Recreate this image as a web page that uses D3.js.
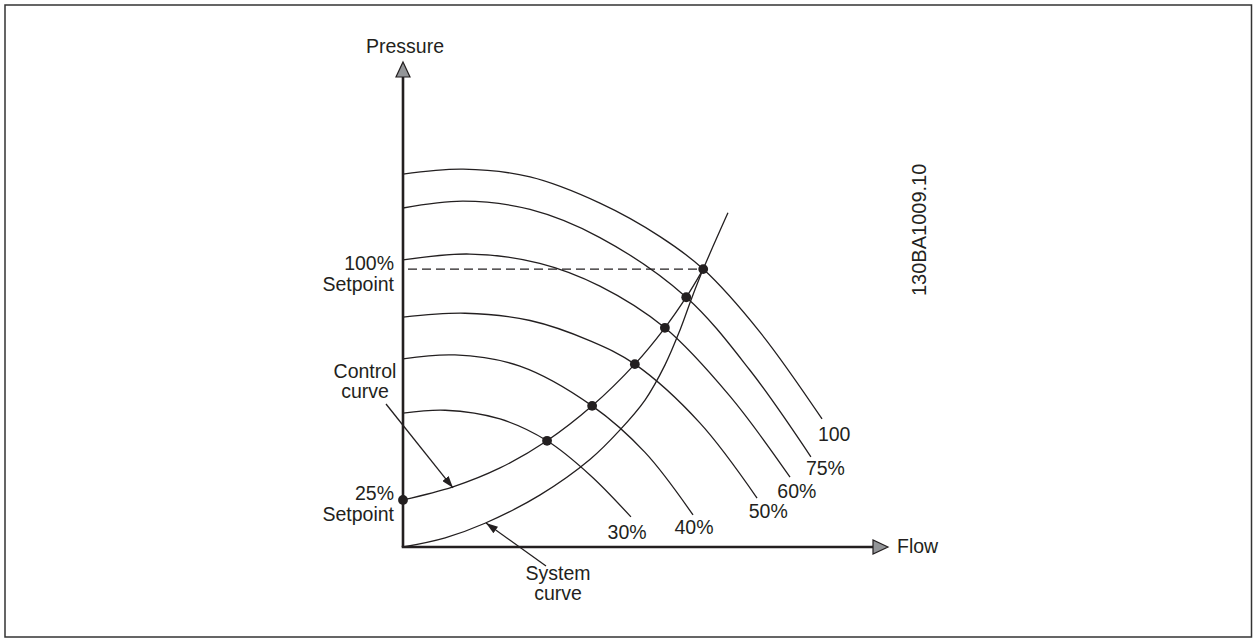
<!DOCTYPE html>
<html>
<head>
<meta charset="utf-8">
<script src="https://cdn.jsdelivr.net/npm/d3@7/dist/d3.min.js"></script>
<style>
  html, body { margin: 0; padding: 0; background: #fff; }
  svg { display: block; }
  text { font-family: "Liberation Sans", Arial, sans-serif; fill: #231f20; }
</style>
</head>
<body>
<svg id="chart" width="1253" height="639"></svg>
<script>
// Pump curves at reduced speeds: [flow, pressure] in % of axis length
const pump100 = [[0,76.9],[12.4,77.9],[26.2,76.3],[40.6,70.9],[53.0,64.0],[61.9,57.3],[73.6,44.3],[86.4,26.4]];
const pump75  = [[0,69.9],[12.4,71.3],[26.2,69.6],[40.6,63.8],[58.4,51.5],[71.5,36.5],[84.1,18.6]];
const pump60  = [[0,59.2],[13.8,60.4],[28.2,58.5],[40.6,53.8],[54.0,45.2],[67.4,31.1],[79.8,14.4]];
const pump50  = [[0,47.4],[12.8,48.2],[26.2,46.7],[38.6,42.5],[47.8,37.7],[61.2,25.6],[73.0,10.1]];
const pump40  = [[0,38.8],[10.7,39.6],[24.1,37.3],[39.0,29.1],[49.9,19.5],[59.8,6.6]];
const pump30  = [[0,27.6],[8.7,28.2],[20.0,26.4],[29.7,21.9],[38.6,14.8],[47.0,6.2]];
const pumpLabels = ["100", "75%", "60%", "50%", "40%", "30%"];
// label anchor positions (flow, pressure) for each speed curve
const pumpLabelPos = [[88.9,21.8],[87.1,14.8],[81.2,10.1],[75.3,6.0],[60.0,2.7],[46.2,1.6]];

// Control curve (setpoint line) and system curve
const controlCurve = [[0,9.7],[10.3,12.4],[20.0,16.3],[29.7,21.9],[39.0,29.1],[47.8,37.7],[54.0,45.2],[58.4,51.5],[61.9,57.3]];
const systemCurve  = [[0,0],[8.7,1.9],[16.9,4.9],[28.2,10.7],[38.6,18.1],[44.7,24.1],[49.9,30.3],[54.0,37.5],[57.1,44.7],[59.6,51.5],[61.9,57.3],[67.0,68.9]];
// Operating points where pump curves meet the control curve
const operatingPoints = [[0,9.7],[29.7,21.9],[39.0,29.1],[47.8,37.7],[54.0,45.2],[58.4,51.5],[61.9,57.3]];
const setpoint100 = 57.3;

const svg = d3.select("#chart");
const ink = "#231f20";
const fs = 19.5;

// frame
svg.append("rect").attr("x", 5).attr("y", 5).attr("width", 1246.5).attr("height", 632)
  .attr("fill", "none").attr("stroke", "#333").attr("stroke-width", 1.5);

const x = d3.scaleLinear().domain([0, 100]).range([403, 888]);
const y = d3.scaleLinear().domain([0, 100]).range([547, 62]);

const line = d3.line().x(d => x(d[0])).y(d => y(d[1])).curve(d3.curveCatmullRom.alpha(0.5));

const g = svg.append("g");

// pump curves
[pump100, pump75, pump60, pump50, pump40, pump30].forEach(p => {
  g.append("path").attr("d", line(p)).attr("fill", "none").attr("stroke", ink).attr("stroke-width", 1.3);
});
pumpLabels.forEach((t, i) => {
  g.append("text").attr("x", x(pumpLabelPos[i][0])).attr("y", y(pumpLabelPos[i][1]))
    .attr("text-anchor", "middle").attr("font-size", fs).text(t);
});

// control and system curves
g.append("path").attr("d", line(controlCurve)).attr("fill", "none").attr("stroke", ink).attr("stroke-width", 1.3);
g.append("path").attr("d", line(systemCurve)).attr("fill", "none").attr("stroke", ink).attr("stroke-width", 1.3);

// 100% setpoint dashed line
g.append("line").attr("x1", x(0)).attr("x2", x(operatingPoints[operatingPoints.length - 1][0]))
  .attr("y1", y(setpoint100)).attr("y2", y(setpoint100))
  .attr("stroke", ink).attr("stroke-width", 1.2).attr("stroke-dasharray", "9,5")
  .attr("stroke-dashoffset", -5);

// operating points
g.selectAll("circle.op").data(operatingPoints).join("circle")
  .attr("cx", d => x(d[0])).attr("cy", d => y(d[1])).attr("r", 4.9).attr("fill", ink);

// axes with arrowheads
const axisG = svg.append("g");
axisG.append("line").attr("x1", x(0)).attr("y1", y(0)).attr("x2", x(0)).attr("y2", y(97))
  .attr("stroke", ink).attr("stroke-width", 2.6);
axisG.append("line").attr("x1", x(0) - 1.3).attr("y1", y(0)).attr("x2", x(97)).attr("y2", y(0))
  .attr("stroke", ink).attr("stroke-width", 2.6);
axisG.append("path")
  .attr("d", `M${x(0)},${y(100)} L${x(0) + 7},${y(100) + 15} L${x(0) - 7},${y(100) + 15} Z`)
  .attr("fill", "#939598").attr("stroke", ink).attr("stroke-width", 1.2);
axisG.append("path")
  .attr("d", `M${x(100)},${y(0)} L${x(100) - 15},${y(0) - 7} L${x(100) - 15},${y(0) + 7} Z`)
  .attr("fill", "#939598").attr("stroke", ink).attr("stroke-width", 1.2);

svg.append("text").attr("x", 405).attr("y", 53).attr("text-anchor", "middle").attr("font-size", fs).text("Pressure");
svg.append("text").attr("x", 897).attr("y", 553).attr("font-size", fs).text("Flow");

// setpoint labels
const leftLabels = [["100%", 270], ["Setpoint", 291], ["25%", 500], ["Setpoint", 521]];
leftLabels.forEach(([t, yy]) => {
  svg.append("text").attr("x", 394).attr("y", yy).attr("text-anchor", "end").attr("font-size", fs).text(t);
});

// annotations with arrows
svg.append("defs").append("marker").attr("id", "arr").attr("viewBox", "0 0 12 8")
  .attr("refX", 12).attr("refY", 4).attr("markerWidth", 12).attr("markerHeight", 8)
  .attr("markerUnits", "userSpaceOnUse").attr("orient", "auto")
  .append("path").attr("d", "M0,0 L12,4 L0,8 Z").attr("fill", ink);

svg.append("text").attr("x", 365).attr("y", 378).attr("text-anchor", "middle").attr("font-size", fs).text("Control");
svg.append("text").attr("x", 365).attr("y", 398).attr("text-anchor", "middle").attr("font-size", fs).text("curve");
svg.append("line").attr("x1", 386).attr("y1", 404).attr("x2", x(controlCurve[1][0])).attr("y2", y(controlCurve[1][1]) + 1)
  .attr("stroke", ink).attr("stroke-width", 1.3).attr("marker-end", "url(#arr)");

svg.append("text").attr("x", 558).attr("y", 580).attr("text-anchor", "middle").attr("font-size", fs).text("System");
svg.append("text").attr("x", 558).attr("y", 600).attr("text-anchor", "middle").attr("font-size", fs).text("curve");
svg.append("line").attr("x1", 546).attr("y1", 566).attr("x2", 486).attr("y2", 523)
  .attr("stroke", ink).attr("stroke-width", 1.3).attr("marker-end", "url(#arr)");

// drawing reference number
svg.append("text").attr("transform", "translate(926,296) rotate(-90)")
  .attr("font-size", 20).text("130BA1009.10");
</script>
</body>
</html>
